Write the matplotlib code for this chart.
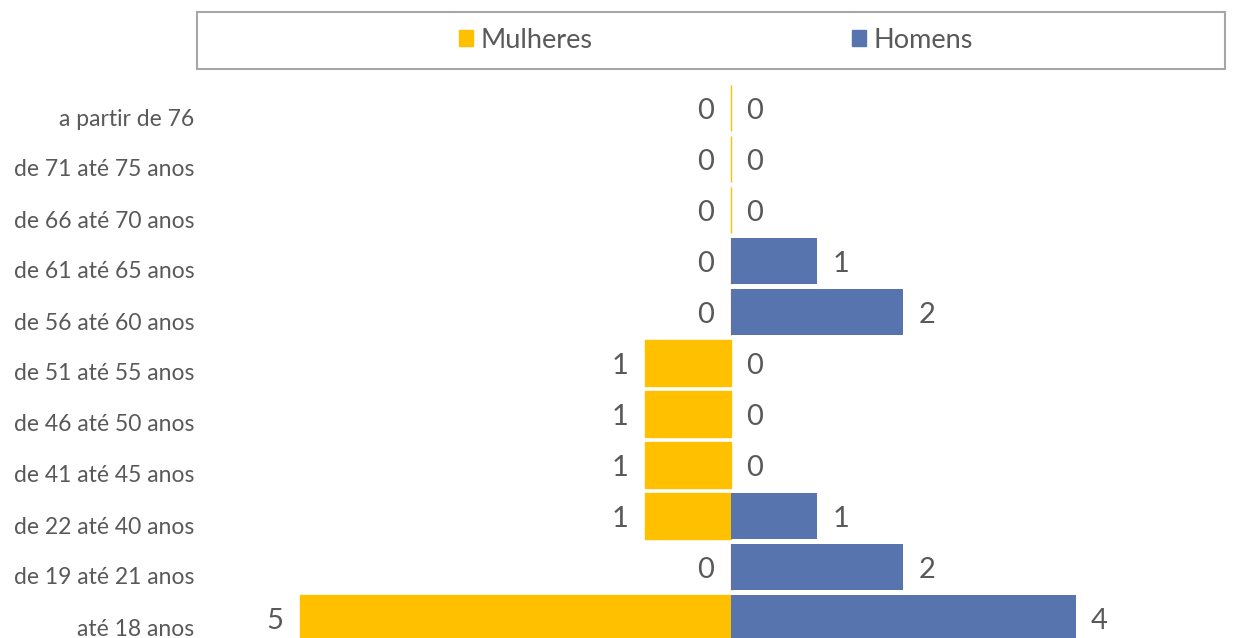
import matplotlib.pyplot as plt
from matplotlib.patches import Rectangle
from matplotlib.transforms import ScaledTranslation

# Age groups, top to bottom
faixas = ['a partir de 76', 'de 71 até 75 anos', 'de 66 até 70 anos', 'de 61 até 65 anos',
          'de 56 até 60 anos', 'de 51 até 55 anos', 'de 46 até 50 anos', 'de 41 até 45 anos',
          'de 22 até 40 anos', 'de 19 até 21 anos', 'até 18 anos']
mulheres = [0, 0, 0, 0, 0, 1, 1, 1, 1, 0, 5]
homens = [0, 0, 0, 1, 2, 0, 0, 0, 1, 2, 4]

amarelo = '#FFC000'
azul = '#5874AE'
cinza = '#595959'

plt.rcParams['font.family'] = ['Lato', 'DejaVu Sans']

W, H = 1243, 638
fig = plt.figure(figsize=(W / 100, H / 100), dpi=100)

# axes spans x 197..1225 px, y 84..638 px
ax = fig.add_axes([197 / W, 0, (1225 - 197) / W, (638 - 84) / H])

y = list(range(len(faixas)))
ax.barh(y, [-v for v in mulheres], height=0.92, color=amarelo, edgecolor=amarelo, linewidth=1)
ax.barh(y, homens, height=0.92, color=azul, edgecolor='none')

unit = 86.2
ax.set_xlim((197 - 731) / unit, (1225 - 731) / unit)
ax.set_ylim(10 + 20 / 51, -24 / 51)

for i in y:
    ax.annotate(str(mulheres[i]), (-mulheres[i], i), xytext=(-18, -2), textcoords='offset points',
                ha='center', va='center', fontsize=21, color=cinza)
    ax.annotate(str(homens[i]), (homens[i], i), xytext=(17, -2), textcoords='offset points',
                ha='center', va='center', fontsize=21, color=cinza)

ax.set_yticks(y)
ax.set_yticklabels(faixas, fontsize=16.5, color=cinza)
ax.tick_params(axis='y', length=0, pad=2)
off = ScaledTranslation(0, -9 / 100, fig.dpi_scale_trans)
for lab in ax.get_yticklabels():
    lab.set_transform(lab.get_transform() + off)
ax.set_xticks([])
for s in ax.spines.values():
    s.set_visible(False)

# legend box
fig.patches.append(Rectangle((197 / W, 1 - 69 / H), (1225 - 197) / W, 57 / H,
                             transform=fig.transFigure, fill=False, edgecolor='#A6A6A6', linewidth=1.5))
h1 = Rectangle((0, 0), 1, 1, color=amarelo)
h2 = Rectangle((0, 0), 1, 1, color=azul)
fig.legend([h1, h2], ['Mulheres', 'Homens'], loc='center', bbox_to_anchor=(716 / W, 1 - 40 / H),
           ncol=2, frameon=False, fontsize=19.5, labelcolor=cinza, handlelength=0.52, handleheight=0.52,
           handletextpad=0.26, columnspacing=9.6)

fig.savefig('out.png', dpi=100)
